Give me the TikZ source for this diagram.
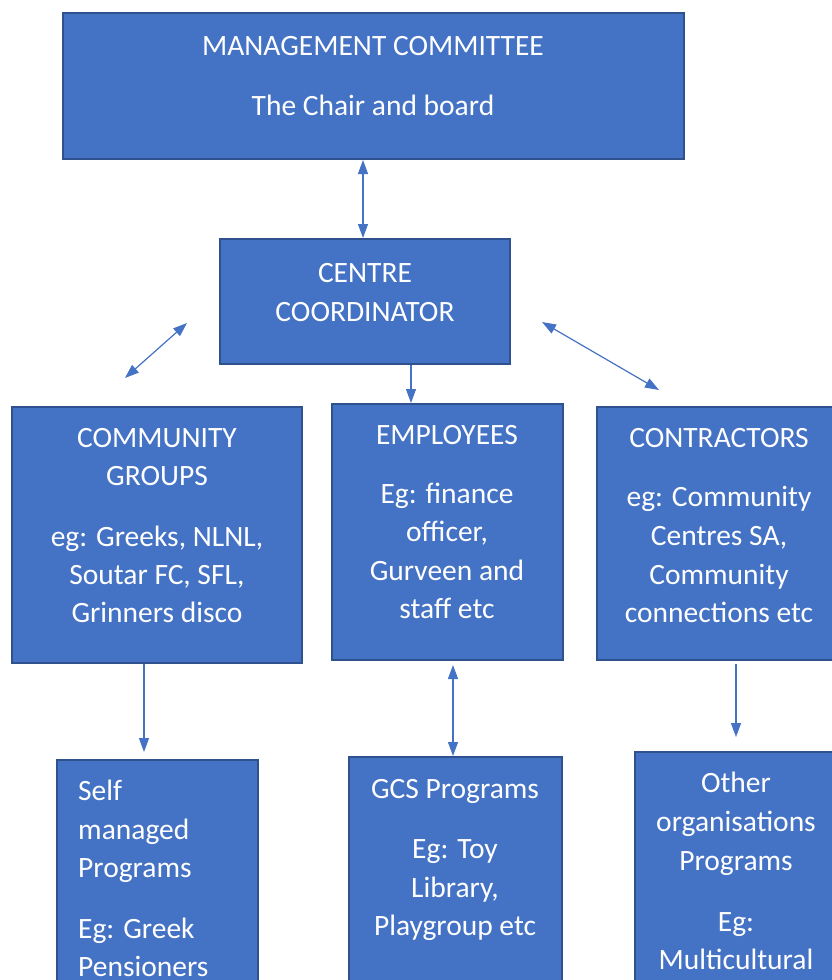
\documentclass[tikz,border=0pt]{standalone}
\usepackage{fontspec}
\setmainfont{Carlito}
\usetikzlibrary{arrows.meta}
\definecolor{boxfill}{HTML}{4472C4}
\definecolor{boxline}{HTML}{2F528F}
\definecolor{arrowc}{HTML}{4472C4}
\tikzset{
  box/.style={rectangle, draw=boxline, fill=boxfill, line width=2pt, inner sep=0pt},
  txt/.style={anchor=base, text=white, inner sep=0pt, font=\fontsize{29.5}{34}\selectfont},
  txtl/.style={txt, anchor=base west},
  conn/.style={draw=arrowc, line width=1.2pt},
  one/.style={conn, -{Triangle[length=14pt,width=10pt]}},
  both/.style={conn, {Triangle[length=14pt,width=10pt]}-{Triangle[length=14pt,width=10pt]}}
}
\begin{document}
\begin{tikzpicture}[x=1pt,y=-1pt]
\useasboundingbox (0,0) rectangle (831,980);
% boxes
\node[box, minimum width=621pt, minimum height=146pt] (mc) at (373.5,86) {};
\node[box, minimum width=290pt, minimum height=125pt] (cc) at (365,301.5) {};
\node[box, minimum width=290pt, minimum height=256pt] (cg) at (157,535) {};
\node[box, minimum width=231pt, minimum height=256pt] (emp) at (447.5,532) {};
\node[box, minimum width=244pt, minimum height=253pt] (con) at (719,533.5) {};
\node[box, minimum width=201pt, minimum height=260pt] (self) at (157.5,890) {};
\node[box, minimum width=213pt, minimum height=263pt] (gcs) at (455.5,888.5) {};
\node[box, minimum width=202pt, minimum height=268pt] (oth) at (736,886) {};
% texts
\node[txt] (t-mc-1) at (373,55) {MANAGEMENT COMMITTEE};
\node[txt] (t-mc-2) at (373,115) {The Chair and board};
\node[txt] (t-cc-1) at (365,282) {CENTRE};
\node[txt] (t-cc-2) at (365,321) {COORDINATOR};
\node[txt] (t-cg-1) at (157,447) {COMMUNITY};
\node[txt] (t-cg-2) at (157,485) {GROUPS};
\node[txt] (t-cg-3) at (157,546) {eg: Greeks, NLNL,};
\node[txt] (t-cg-4) at (157,584) {Soutar FC, SFL,};
\node[txt] (t-cg-5) at (157,622) {Grinners disco};
\node[txt] (t-em-1) at (447,444) {EMPLOYEES};
\node[txt] (t-em-2) at (447,503) {Eg: finance};
\node[txt] (t-em-3) at (447,541) {officer,};
\node[txt] (t-em-4) at (447,580) {Gurveen and};
\node[txt] (t-em-5) at (447,618) {staff etc};
\node[txt] (t-co-1) at (719,447) {CONTRACTORS};
\node[txt] (t-co-2) at (719,506) {eg: Community};
\node[txt] (t-co-3) at (719,545) {Centres SA,};
\node[txt] (t-co-4) at (719,584) {Community};
\node[txt] (t-co-5) at (719,622) {connections etc};
\node[txtl] (t-se-1) at (78,800) {Self};
\node[txtl] (t-se-2) at (78,839) {managed};
\node[txtl] (t-se-3) at (78,877) {Programs};
\node[txtl] (t-se-4) at (78,938) {Eg: Greek};
\node[txtl] (t-se-5) at (78,976) {Pensioners};
\node[txt] (t-gc-1) at (455,798) {GCS Programs};
\node[txt] (t-gc-2) at (455,858) {Eg: Toy};
\node[txt] (t-gc-3) at (455,897) {Library,};
\node[txt] (t-gc-4) at (455,935) {Playgroup etc};
\node[txt] (t-ot-1) at (736,792) {Other};
\node[txt] (t-ot-2) at (736,831) {organisations};
\node[txt] (t-ot-3) at (736,870) {Programs};
\node[txt] (t-ot-4) at (736,931) {Eg:};
\node[txt] (t-ot-5) at (736,969) {Multicultural};
% free connector ends
\coordinate (dl1) at (187,323);
\coordinate (dl2) at (125,378);
\coordinate (dr1) at (542,322);
\coordinate (dr2) at (659,390);
\coordinate (sa) at (144,752);
\coordinate (ea) at (453,665);
\coordinate (ca) at (736,664);
\coordinate (cb) at (736,737);
% connectors
\draw[both] ([xshift=-10.5pt]mc.south) -- ([xshift=-2pt]cc.north);
\draw[both] (dl1) -- (dl2);
\draw[both] (dr1) -- (dr2);
\draw[one] ([xshift=46pt]cc.south) -- ([xshift=-36.5pt]emp.north);
\draw[one] ([xshift=-13pt]cg.south) -- (sa);
\draw[both] (ea) -- ([xshift=-2.5pt]gcs.north);
\draw[one] (ca) -- (cb);
\end{tikzpicture}
\end{document}
